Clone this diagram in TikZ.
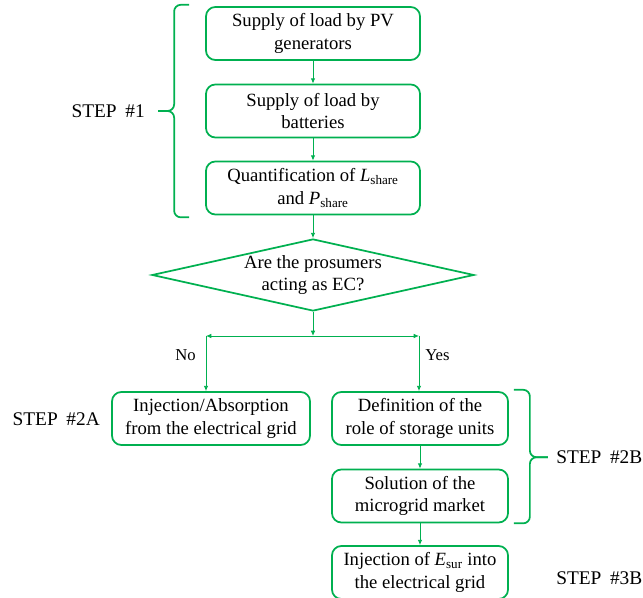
\documentclass[tikz,border=0pt]{standalone}
\usepackage{fontspec}
\setmainfont{Liberation Serif}
\usetikzlibrary{arrows.meta,positioning,shapes.geometric,calc}
\definecolor{ecgreen}{RGB}{0,176,80}
\tikzstyle{block}=[draw=ecgreen, line width=1.3pt, rectangle, rounded corners=7pt, align=center, minimum height=39.75pt, inner sep=1pt, font=\fontsize{14}{17}\selectfont]
\tikzstyle{decision}=[draw=ecgreen, line width=1.3pt, diamond, aspect=4.47, inner sep=0pt, minimum width=241.5pt, minimum height=54pt, align=center, font=\fontsize{14}{17}\selectfont]
\tikzstyle{line}=[draw=ecgreen, line width=0.7pt]
\tikzstyle{bracket}=[draw=ecgreen, line width=1.3pt, rounded corners=5pt]
\tikzstyle{steplabel}=[inner sep=0pt, font=\fontsize{14.5}{17}\selectfont]
\tikzstyle{answer}=[inner sep=0pt, font=\fontsize{12.5}{15}\selectfont]

\begin{document}
\begin{tikzpicture}[x=0.75pt, y=-0.75pt, node distance=18.75pt, >={Latex[length=4pt,width=3.5pt]}]
    \useasboundingbox (0,0) rectangle (643,598);
    % step 1
    \node [block, minimum width=160.5pt] (pv) at (313,33.5) {Supply of load by PV\\generators};
    \node [block, minimum width=160.5pt] (bat) at (313,111) {Supply of load by\\batteries};
    \node [block, minimum width=160.5pt] (quant) at (313,188) {Quantification of \textit{L}\textsubscript{share}\\and \textit{P}\textsubscript{share}};
    \node [decision] (ec) at (313,275) {Are the prosumers\\acting as EC?};
    \coordinate (split) at (313,336);
    \coordinate (nobranch) at (206,336);
    \coordinate (yesbranch) at (419,336);
    % steps 2A / 2B / 3B
    \node [block, minimum width=148.5pt] (grid) at (211,418.5) {Injection/Absorption\\from the electrical grid};
    \node [block, minimum width=132pt] (storage) at (420,418.5) {Definition of the\\role of storage units};
    \node [block, minimum width=132pt] (market) at (420,496) {Solution of the\\microgrid market};
    \node [block, minimum width=132pt] (surplus) at (420,572.5) {Injection of \textit{E}\textsubscript{sur} into\\the electrical grid};

    \path[line,->] (pv) -- (bat);
    \path[line,->] (bat) -- (quant);
    \path[line,->] (quant) -- (ec);
    \path[line,->] (ec) -- (split);
    \path[line,<->] (nobranch) -- (yesbranch);
    \path[line,->] (nobranch) -- (nobranch |- grid.north);
    \path[line,->] (yesbranch) -- (yesbranch |- storage.north);
    \path[line,->] (storage) -- (market);
    \path[line,->] (market) -- (surplus);

    \node [answer, anchor=east] (no) at (196,355) {No};
    \node [answer, anchor=west] (yes) at (425,355) {Yes};

    % brackets and step labels
    \coordinate (tip1) at ($(bat.west)+(-35.25pt,0)$);
    \coordinate (tip2b) at ($(storage.east)!0.5!(market.east)+(29.25pt,0)$);
    \draw[bracket] ([xshift=-12pt, yshift=1pt]pv.north west) -| ([xshift=-23.25pt]bat.west) -- (tip1);
    \draw[bracket] (tip1) -- ([xshift=-23.25pt]bat.west) |- ([xshift=-12pt, yshift=-1.5pt]quant.south west);
    \draw[bracket] ([xshift=3.75pt, yshift=1pt]storage.north east) -| ($(storage.east)!0.5!(market.east)+(15.75pt,0)$) -- (tip2b);
    \draw[bracket] (tip2b) -- ($(storage.east)!0.5!(market.east)+(15.75pt,0)$) |- ([xshift=3.75pt]market.south east);
    \node [steplabel, anchor=east] (step1) at (145,111) {STEP\hspace{6.5pt}\#1};
    \node [steplabel, anchor=east] (step2a) at (100,419) {STEP\hspace{6.5pt}\#2A};
    \node [steplabel, anchor=west] (step2b) at (556,457) {STEP\hspace{6.5pt}\#2B};
    \node [steplabel, anchor=west] (step3b) at (556,578) {STEP\hspace{6.5pt}\#3B};
\end{tikzpicture}
\end{document}
